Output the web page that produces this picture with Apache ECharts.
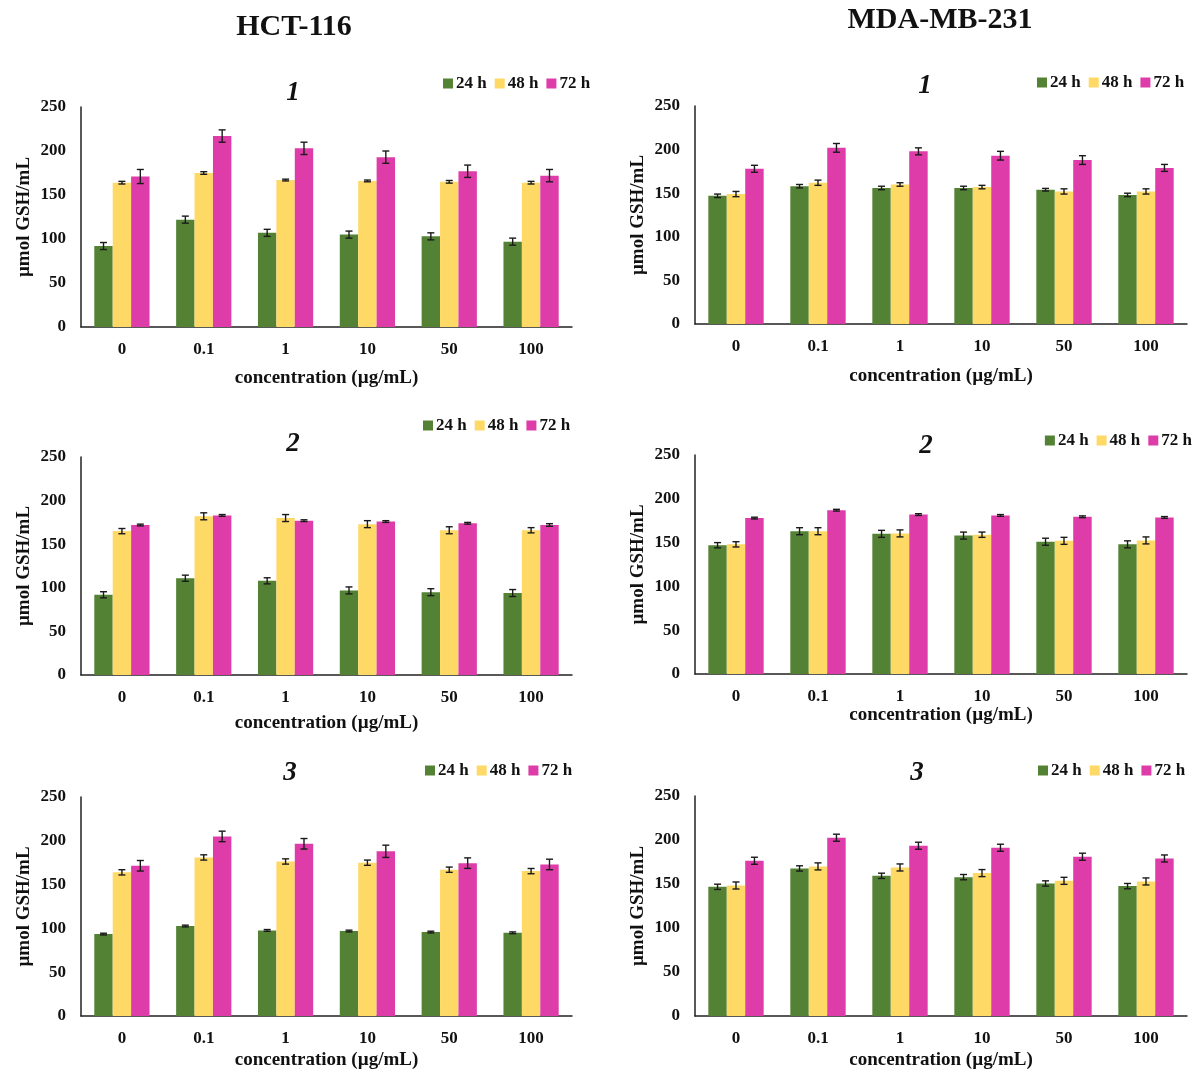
<!DOCTYPE html>
<html>
<head>
<meta charset="utf-8">
<script src="https://cdn.jsdelivr.net/npm/echarts@6/dist/echarts.min.js"></script>
<style>
html,body{margin:0;padding:0;background:#fff;}
#chart{width:1198px;height:1072px;}
</style>
</head>
<body>
<div id="chart"></div>
<script>
// ---------- DATA ----------
const categories = ['0', '0.1', '1', '10', '50', '100'];
const seriesNames = ['24 h', '48 h', '72 h'];
const yTicks = [0, 50, 100, 150, 200, 250];

// HCT-116, compound 1
const hct1_24 = [92, 122, 107, 105, 103, 97];
const hct1_48 = [164, 175, 167, 166, 165, 164];
const hct1_72 = [171, 217, 203, 193, 177, 172];
const hct1_24_err = [4, 4, 4, 4, 4, 4];
const hct1_48_err = [1.5, 1.5, 1, 1, 1.5, 1.5];
const hct1_72_err = [8, 7, 7, 7, 7, 7];

// MDA-MB-231, compound 1
const mda1_24 = [147, 158, 156, 156, 154, 148];
const mda1_48 = [149, 162, 160, 157, 152, 152];
const mda1_72 = [178, 202, 198, 193, 188, 179];
const mda1_24_err = [2, 2, 2, 2, 1.5, 2];
const mda1_48_err = [3, 3, 2, 2, 3, 3];
const mda1_72_err = [4, 5, 4, 5, 5, 4];

// HCT-116, compound 2
const hct2_24 = [92, 111, 108, 97, 95, 94];
const hct2_48 = [165, 182, 180, 173, 166, 166];
const hct2_72 = [172, 183, 177, 176, 174, 172];
const hct2_24_err = [3.5, 3.5, 3.5, 4, 4, 4];
const hct2_48_err = [3, 4, 4, 4, 4, 3];
const hct2_72_err = [1, 1, 1, 1, 1, 1.5];

// MDA-MB-231, compound 2
const mda2_24 = [147, 163, 160, 158, 151, 148];
const mda2_48 = [148, 163, 160.5, 159, 152, 152.5];
const mda2_72 = [178, 187, 182, 181, 179.5, 178.7];
const mda2_24_err = [3, 4, 4, 4, 4, 4];
const mda2_48_err = [3, 4, 4, 3, 4, 4];
const mda2_72_err = [1, 1, 1, 1, 1, 1];

// HCT-116, compound 3
const hct3_24 = [93.5, 102.7, 97.7, 97, 95.8, 95];
const hct3_48 = [164, 181, 176.4, 175, 167, 165.4];
const hct3_72 = [171.5, 205, 196.6, 188, 174.5, 173];
const hct3_24_err = [1, 1, 1, 1, 1, 1];
const hct3_48_err = [3, 3, 3, 3, 3, 3];
const hct3_72_err = [6, 6, 6, 7, 6, 6];

// MDA-MB-231, compound 3
const mda3_24 = [146.8, 167.7, 159.3, 157.8, 150.6, 147.6];
const mda3_48 = [148.3, 170, 168.8, 162.4, 153.6, 152.9];
const mda3_72 = [176.4, 202.6, 193.5, 191.2, 181, 179];
const mda3_24_err = [3, 3, 3, 3, 3, 3];
const mda3_48_err = [4, 4, 4, 4, 4, 4];
const mda3_72_err = [4, 4, 4, 4, 4, 4];

// ---------- STYLE / LAYOUT ----------
const colors = ['#548235', '#ffd966', '#dd3ca9'];
const FONT = '"Liberation Serif", "Times New Roman", serif';
const BAR_FRAC = 0.225;

const panels = [
  {vals: [hct1_24, hct1_48, hct1_72], errs: [hct1_24_err, hct1_48_err, hct1_72_err],
   grid: {left: 81, top: 107, width: 491, height: 220}, xGap: 42, num: '1', numPos: [293, 93], leg: {left: 438, top: 70}},
  {vals: [mda1_24, mda1_48, mda1_72], errs: [mda1_24_err, mda1_48_err, mda1_72_err],
   grid: {left: 695, top: 106, width: 492, height: 218}, xGap: 43, num: '1', numPos: [925, 86], leg: {left: 1032, top: 69}},
  {vals: [hct2_24, hct2_48, hct2_72], errs: [hct2_24_err, hct2_48_err, hct2_72_err],
   grid: {left: 81, top: 457, width: 491, height: 218}, xGap: 39, num: '2', numPos: [293, 444], leg: {left: 418, top: 412}},
  {vals: [mda2_24, mda2_48, mda2_72], errs: [mda2_24_err, mda2_48_err, mda2_72_err],
   grid: {left: 695, top: 455, width: 492, height: 219}, xGap: 29, num: '2', numPos: [926, 446], leg: {right: 1, top: 427}},
  {vals: [hct3_24, hct3_48, hct3_72], errs: [hct3_24_err, hct3_48_err, hct3_72_err],
   grid: {left: 81, top: 797, width: 491, height: 219}, xGap: 35, num: '3', numPos: [290, 773], leg: {left: 420, top: 757}},
  {vals: [mda3_24, mda3_48, mda3_72], errs: [mda3_24_err, mda3_48_err, mda3_72_err],
   grid: {left: 695, top: 796, width: 492, height: 220}, xGap: 35, num: '3', numPos: [917, 773], leg: {left: 1033, top: 757}}
];

const grids = [], xAxes = [], yAxes = [], series = [], legends = [];
const graphics = [
  {type: 'text', x: 294, y: 27, style: {text: 'HCT-116', font: 'bold 30px ' + FONT, fill: '#111', textAlign: 'center', textVerticalAlign: 'middle'}},
  {type: 'text', x: 940, y: 20, style: {text: 'MDA-MB-231', font: 'bold 30px ' + FONT, fill: '#111', textAlign: 'center', textVerticalAlign: 'middle'}}
];

panels.forEach((p, gi) => {
  grids.push(Object.assign({containLabel: false}, p.grid));
  xAxes.push({
    type: 'category', gridIndex: gi, data: categories,
    name: 'concentration (µg/mL)', nameLocation: 'middle', nameGap: p.xGap,
    nameTextStyle: {fontFamily: FONT, fontWeight: 'bold', fontSize: 19, color: '#111'},
    axisLine: {lineStyle: {color: '#222', width: 1.5}},
    axisTick: {show: false},
    axisLabel: {fontFamily: FONT, fontWeight: 'bold', fontSize: 17, color: '#111', margin: 14},
    splitLine: {show: false}
  });
  yAxes.push({
    type: 'value', gridIndex: gi, min: 0, max: 250, interval: 50,
    name: 'µmol GSH/mL', nameLocation: 'middle', nameGap: 47,
    nameTextStyle: {fontFamily: FONT, fontWeight: 'bold', fontSize: 19, color: '#111'},
    axisLine: {show: true, lineStyle: {color: '#222', width: 1.5}},
    axisTick: {show: false},
    axisLabel: {fontFamily: FONT, fontWeight: 'bold', fontSize: 17, color: '#111', margin: 15},
    splitLine: {show: false}
  });
  legends.push(Object.assign({
    orient: 'horizontal', width: 170,
    icon: 'rect', itemWidth: 10, itemHeight: 10, itemGap: 8,
    selectedMode: false,
    textStyle: {fontFamily: FONT, fontWeight: 'bold', fontSize: 17, color: '#111', padding: [0, 0, 0, -2]},
    data: seriesNames
  }, p.leg));
  graphics.push({type: 'text', x: p.numPos[0], y: p.numPos[1],
    style: {text: p.num, font: 'italic bold 27px ' + FONT, fill: '#111', textAlign: 'center', textVerticalAlign: 'middle'}});

  seriesNames.forEach((sn, si) => {
    series.push({
      type: 'bar', name: sn, xAxisIndex: gi, yAxisIndex: gi,
      data: p.vals[si], barWidth: (BAR_FRAC * 100) + '%', barGap: '0%',
      itemStyle: {color: colors[si]}, silent: true
    });
  });
  seriesNames.forEach((sn, si) => {
    const offIdx = si - 1;
    series.push({
      type: 'custom', name: sn + ' err', xAxisIndex: gi, yAxisIndex: gi, z: 10, silent: true,
      data: p.vals[si].map((v, i) => [i, v, p.errs[si][i]]),
      renderItem: function (params, api) {
        const idx = api.value(0), v = api.value(1), e = api.value(2);
        const band = api.size([1, 0])[0];
        const off = offIdx * band * BAR_FRAC;
        const top = api.coord([idx, v + e]);
        const bot = api.coord([idx, v - e]);
        const x = top[0] + off, cap = 3.5;
        const st = {stroke: '#1a1a1a', lineWidth: 1.4};
        return {type: 'group', children: [
          {type: 'line', shape: {x1: x, y1: top[1], x2: x, y2: bot[1]}, style: st},
          {type: 'line', shape: {x1: x - cap, y1: top[1], x2: x + cap, y2: top[1]}, style: st},
          {type: 'line', shape: {x1: x - cap, y1: bot[1], x2: x + cap, y2: bot[1]}, style: st}
        ]};
      }
    });
  });
});

const chart = echarts.init(document.getElementById('chart'), null, {renderer: 'canvas'});
chart.setOption({
  backgroundColor: '#ffffff',
  animation: false,
  grid: grids, xAxis: xAxes, yAxis: yAxes, legend: legends,
  series: series, graphic: graphics
});
</script>
</body>
</html>
